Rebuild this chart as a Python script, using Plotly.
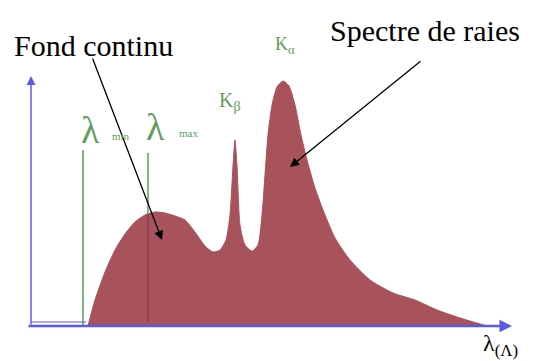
import plotly.graph_objects as go

# Spectrum (wavelength in arbitrary units, intensity in arbitrary units)
wavelength = [88, 95, 105, 115, 125, 135, 145, 155, 165, 175, 185, 195, 205, 213, 220, 226,
              230, 233, 235, 237, 240, 245, 252, 258, 262, 265, 268, 272, 277, 283, 289, 295,
              301, 307, 315, 323, 335, 350, 370, 393, 415, 437, 460, 487]
intensity = [0, 26, 54, 76, 92, 104, 111, 114, 113, 110, 106, 94, 80, 74, 76, 86,
             111, 160, 186, 160, 101, 81, 75, 81, 111, 151, 191, 221, 239, 245, 240, 221,
             191, 166, 138, 116, 88, 66, 46, 33, 26, 16, 8, 0]

lambda_min = 83
lambda_max = 148

fill_col = "#a8525c"
green = "#5e9e5e"
blue = "#5a5ae6"
serif = "Liberation Serif"

fig = go.Figure()
fig.add_trace(go.Scatter(x=wavelength, y=intensity, mode="lines", fill="tozeroy",
                         fillcolor=fill_col, line=dict(color=fill_col, width=1, shape="spline",
                                                       smoothing=0.6),
                         hoverinfo="skip"))

shapes = [
    dict(type="line", x0=lambda_min, x1=lambda_min, y0=0, y1=176, line=dict(color=green, width=1.5)),
    dict(type="line", x0=lambda_max, x1=lambda_max, y0=112, y1=173, line=dict(color=green, width=1.5)),
    dict(type="line", x0=lambda_max, x1=lambda_max, y0=4, y1=112, line=dict(color="#7a3640", width=1.2)),
    dict(type="line", x0=31, x1=86, y0=4, y1=4, line=dict(color=blue, width=1)),
]

annotations = [
    # axes
    dict(x=31, y=250, ax=31, ay=0, xref="x", yref="y", axref="x", ayref="y", text="",
         showarrow=True, arrowhead=2, arrowsize=1.2, arrowwidth=1.5, arrowcolor=blue),
    dict(x=512, y=0, ax=27, ay=0, xref="x", yref="y", axref="x", ayref="y", text="",
         showarrow=True, arrowhead=2, arrowsize=1.0, arrowwidth=2.5, arrowcolor=blue),
    # pointer arrows
    dict(x=162, y=86, ax=92, ay=269, xref="x", yref="y", axref="x", ayref="y", text="",
         showarrow=True, arrowhead=2, arrowsize=1.4, arrowwidth=1.3, arrowcolor="black"),
    dict(x=290, y=159, ax=422, ay=266, xref="x", yref="y", axref="x", ayref="y", text="",
         showarrow=True, arrowhead=2, arrowsize=1.4, arrowwidth=1.3, arrowcolor="black"),
    # texts
    dict(x=93, y=281, xref="x", yref="y", text="Fond continu", showarrow=False,
         font=dict(family=serif, size=30, color="black")),
    dict(x=425, y=296, xref="x", yref="y", text="Spectre de raies", showarrow=False,
         font=dict(family=serif, size=30, color="black")),
    dict(x=285, y=281, xref="x", yref="y", text="K<sub>α</sub>", showarrow=False,
         font=dict(family=serif, size=18, color=green)),
    dict(x=230, y=225, xref="x", yref="y", text="K<sub>β</sub>", showarrow=False,
         font=dict(family=serif, size=20, color=green)),
    dict(x=90, y=196, xref="x", yref="y", text="λ", showarrow=False,
         font=dict(family=serif, size=38, color=green)),
    dict(x=121, y=190, xref="x", yref="y", text="min", showarrow=False,
         font=dict(family=serif, size=11, color=green)),
    dict(x=155, y=199, xref="x", yref="y", text="λ", showarrow=False,
         font=dict(family=serif, size=38, color=green)),
    dict(x=188, y=193, xref="x", yref="y", text="max", showarrow=False,
         font=dict(family=serif, size=11, color=green)),
    dict(x=500, y=-19, xref="x", yref="y", text="λ<sub>(Λ)</sub>", showarrow=False,
         font=dict(family=serif, size=24, color="black")),
]

fig.update_layout(
    width=533, height=361, margin=dict(l=0, r=0, t=0, b=0),
    paper_bgcolor="white", plot_bgcolor="white", showlegend=False,
    xaxis=dict(range=[0, 533], visible=False, fixedrange=True),
    yaxis=dict(range=[-35, 326], visible=False, fixedrange=True),
    shapes=shapes, annotations=annotations,
)

fig.write_html("out.html")
